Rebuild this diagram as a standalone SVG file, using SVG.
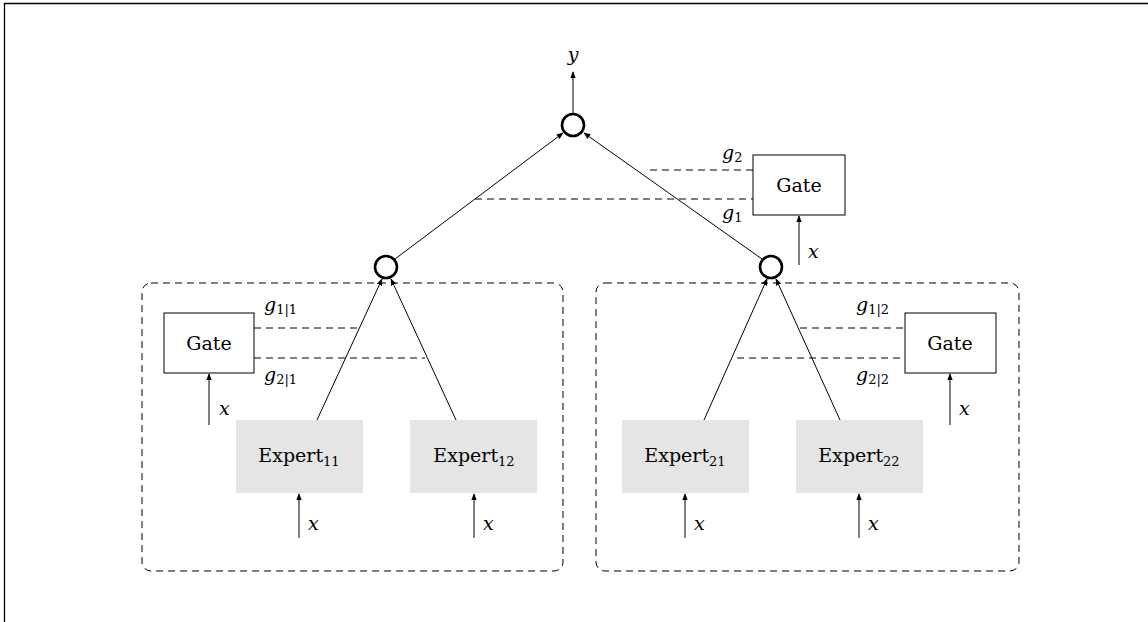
<svg xmlns="http://www.w3.org/2000/svg" width="1148" height="622" viewBox="0 0 1148 622">
<style>
.t{font-family:"DejaVu Serif","Liberation Serif",serif;font-size:19px;fill:#000}
.m{font-family:"DejaVu Serif","Liberation Serif",serif;font-size:19px;font-style:italic;fill:#000}
.s{font-size:13px;font-style:normal}
.gate{fill:#fff;stroke:#000;stroke-width:1}
.exp{fill:#e5e5e5;stroke:none}
.sum{fill:#fff;stroke:#000;stroke-width:2.6}
.arr{stroke:#000;stroke-width:1;fill:none;marker-end:url(#ah)}
.dash{stroke:#000;stroke-width:1;fill:none;stroke-dasharray:7,5}
.box{stroke:#000;stroke-width:1;fill:none;stroke-dasharray:7,5}
</style>
<defs>
<marker id="ah" viewBox="0 0 10 10" refX="9" refY="5" markerWidth="7" markerHeight="7" markerUnits="userSpaceOnUse" orient="auto"><path d="M0,1 L10,5 L0,9 z" fill="#000"/></marker>
</defs>
<rect width="1148" height="622" fill="#fff"/>
<path d="M4.5,640 L4.5,3.5 L1160,3.5" stroke="#000" stroke-width="1.3" fill="none"/>
<g id="experts-box-1"><rect class="box" x="142" y="283" width="421" height="288" rx="9"/></g>
<g id="experts-box-2"><rect class="box" x="596" y="283" width="423" height="288" rx="9"/></g>
<g id="connectors">
<line class="arr" x1="573" y1="114" x2="573" y2="72"/>
<line class="arr" x1="395" y1="259" x2="563" y2="133"/>
<line class="arr" x1="762" y1="259" x2="584" y2="133"/>
<line class="arr" x1="799" y1="265" x2="799" y2="216"/>
<line class="dash" x1="650" y1="170" x2="753" y2="170"/>
<line class="dash" x1="475" y1="199" x2="753" y2="199"/>
<line class="arr" x1="317" y1="420" x2="382" y2="279"/>
<line class="arr" x1="456" y1="420" x2="391" y2="279"/>
<line class="arr" x1="704" y1="420" x2="767" y2="279"/>
<line class="arr" x1="840" y1="420" x2="776" y2="279"/>
<line class="dash" x1="254" y1="328" x2="360" y2="328"/>
<line class="dash" x1="254" y1="358" x2="425" y2="358"/>
<line class="dash" x1="800" y1="328" x2="905" y2="328"/>
<line class="dash" x1="737" y1="358" x2="905" y2="358"/>
<line class="arr" x1="209" y1="425" x2="209" y2="374"/>
<line class="arr" x1="950" y1="425" x2="950" y2="374"/>
<line class="arr" x1="299" y1="538" x2="299" y2="494"/>
<line class="arr" x1="474" y1="538" x2="474" y2="494"/>
<line class="arr" x1="685" y1="538" x2="685" y2="494"/>
<line class="arr" x1="859" y1="538" x2="859" y2="494"/>
</g>
<g id="sum-top"><circle class="sum" cx="573" cy="125" r="11"/></g>
<g id="sum-1"><circle class="sum" cx="386" cy="267" r="11"/></g>
<g id="sum-2"><circle class="sum" cx="771" cy="267" r="11"/></g>
<g id="gate-top"><rect class="gate" x="753" y="155" width="92" height="60"/><text class="t" x="799" y="192" text-anchor="middle">Gate</text></g>
<g id="gate-1"><rect class="gate" x="164" y="313" width="90" height="60"/><text class="t" x="209" y="350" text-anchor="middle">Gate</text></g>
<g id="gate-2"><rect class="gate" x="905" y="313" width="91" height="60"/><text class="t" x="950" y="350" text-anchor="middle">Gate</text></g>
<g id="expert-11"><rect class="exp" x="236" y="420" width="127" height="73"/><text class="t" x="299" y="462" text-anchor="middle">Expert<tspan class="s" dy="4">11</tspan></text></g>
<g id="expert-12"><rect class="exp" x="410" y="420" width="127" height="73"/><text class="t" x="474" y="462" text-anchor="middle">Expert<tspan class="s" dy="4">12</tspan></text></g>
<g id="expert-21"><rect class="exp" x="622" y="420" width="127" height="73"/><text class="t" x="685" y="462" text-anchor="middle">Expert<tspan class="s" dy="4">21</tspan></text></g>
<g id="expert-22"><rect class="exp" x="796" y="420" width="127" height="73"/><text class="t" x="859" y="462" text-anchor="middle">Expert<tspan class="s" dy="4">22</tspan></text></g>
<g id="labels">
<text class="m" x="573" y="61" text-anchor="middle">y</text>
<text class="m" x="722" y="159">g<tspan class="s" dy="3">2</tspan></text>
<text class="m" x="722" y="219">g<tspan class="s" dy="3">1</tspan></text>
<text class="m" x="808" y="258">x</text>
<text class="m" x="264" y="311">g<tspan class="s" dy="3">1|1</tspan></text>
<text class="m" x="264" y="381">g<tspan class="s" dy="3">2|1</tspan></text>
<text class="m" x="219" y="415">x</text>
<text class="m" x="856" y="311">g<tspan class="s" dy="3">1|2</tspan></text>
<text class="m" x="856" y="381">g<tspan class="s" dy="3">2|2</tspan></text>
<text class="m" x="959" y="415">x</text>
<text class="m" x="308" y="530">x</text>
<text class="m" x="483" y="530">x</text>
<text class="m" x="694" y="530">x</text>
<text class="m" x="868" y="530">x</text>
</g>
</svg>
